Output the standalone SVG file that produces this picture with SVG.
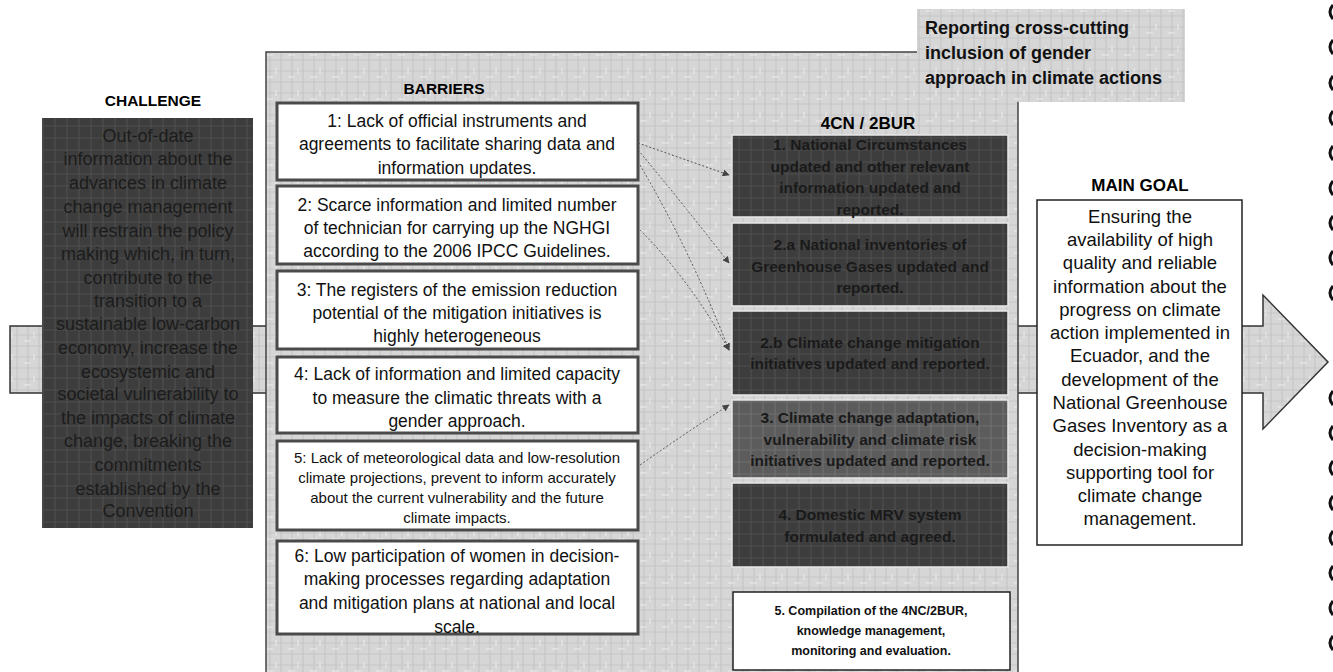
<svg xmlns="http://www.w3.org/2000/svg" width="1333" height="672" viewBox="0 0 1333 672">
<style>
.lbl{font-family:"Liberation Sans",Arial,sans-serif;font-weight:bold;font-size:15.5px;fill:#000;text-anchor:middle}
.bt{font-family:"Liberation Sans",Arial,sans-serif;font-size:17.5px;fill:#111;text-anchor:middle}
.bs{font-family:"Liberation Sans",Arial,sans-serif;font-size:15px;fill:#111;text-anchor:middle}
.dt{font-family:"Liberation Sans",Arial,sans-serif;font-weight:bold;font-size:15.5px;fill:#1a1a1a;text-anchor:middle}
.ct{font-family:"Liberation Sans",Arial,sans-serif;font-size:18px;fill:#1c1c1c;text-anchor:middle}
.gt{font-family:"Liberation Sans",Arial,sans-serif;font-size:18.5px;fill:#111;text-anchor:middle}
.rt{font-family:"Liberation Sans",Arial,sans-serif;font-weight:bold;font-size:18px;fill:#111}
.wb{fill:#fff;stroke:#4a4a4a;stroke-width:3}
.db{fill:url(#dark);stroke:#e8e8e8;stroke-width:1.5}
.conn{fill:none;stroke:#555;stroke-width:1;stroke-dasharray:2 2}
.st{font-family:"Liberation Sans",Arial,sans-serif;font-weight:bold;font-size:12.5px;fill:#111;text-anchor:middle}
</style>
<defs>
<pattern id="light" width="22" height="22" patternUnits="userSpaceOnUse">
<rect width="22" height="22" fill="#d6d6d6"/>
<path d="M0 5H22M0 16H22M6 0V22M17 0V22" stroke="#c6c6c6" stroke-width="1.2"/>
<path d="M2 11H9M12 2V8" stroke="#ececec" stroke-width="1"/>
</pattern>
<pattern id="dark" width="24" height="24" patternUnits="userSpaceOnUse">
<rect width="24" height="24" fill="#3d3d3d"/>
<path d="M0 6H24M0 18H24M7 0V24M19 0V24" stroke="#4d4d4d" stroke-width="1.2"/>
</pattern>
<pattern id="mid" width="24" height="24" patternUnits="userSpaceOnUse">
<rect width="24" height="24" fill="#5c5c5c"/>
<path d="M0 6H24M0 18H24M7 0V24M19 0V24" stroke="#6e6e6e" stroke-width="1.2"/>
</pattern>
<marker id="ah" viewBox="0 0 10 10" refX="9" refY="5" markerWidth="7" markerHeight="7" orient="auto">
<path d="M0 0L10 5L0 10z" fill="#444"/>
</marker>
</defs>
<rect width="1333" height="672" fill="#fff"/>

<g id="band-arrow">
<path d="M10 326H1263V295L1328 362L1263 429V393H10Z" fill="url(#light)" stroke="#333" stroke-width="1.5"/>
</g>

<g id="panel">
<path d="M266 52H1018V672H266Z" fill="url(#light)"/>
<path d="M266 672V52H917M1018 102V672" fill="none" stroke="#444" stroke-width="1.5"/>
</g>

<g id="reporting">
<rect x="917" y="9" width="268" height="93" fill="url(#light)"/>
<text class="rt" x="925" y="34">Reporting cross-cutting</text>
<text class="rt" x="925" y="59">inclusion of gender</text>
<text class="rt" x="925" y="84">approach in climate actions</text>
</g>

<g id="challenge">
<text class="lbl" x="153" y="106">CHALLENGE</text>
<rect x="42" y="118" width="211" height="410" fill="url(#dark)"/>
<text class="ct" x="148" y="142">Out-of-date</text>
<text class="ct" x="148" y="165">information about the</text>
<text class="ct" x="148" y="189">advances in climate</text>
<text class="ct" x="148" y="213">change management</text>
<text class="ct" x="148" y="237">will restrain the policy</text>
<text class="ct" x="148" y="260">making which, in turn,</text>
<text class="ct" x="148" y="284">contribute to the</text>
<text class="ct" x="148" y="307">transition to a</text>
<text class="ct" x="148" y="330">sustainable low-carbon</text>
<text class="ct" x="148" y="354">economy, increase the</text>
<text class="ct" x="148" y="378">ecosystemic and</text>
<text class="ct" x="148" y="400">societal vulnerability to</text>
<text class="ct" x="148" y="424">the impacts of climate</text>
<text class="ct" x="148" y="447">change, breaking the</text>
<text class="ct" x="148" y="471">commitments</text>
<text class="ct" x="148" y="495">established by the</text>
<text class="ct" x="148" y="517">Convention</text>
</g>

<g id="barriers-label"><text class="lbl" x="444" y="94">BARRIERS</text></g>

<g id="barrier1">
<rect class="wb" x="277" y="103" width="361" height="77"/>
<text class="bt" x="457" y="127">1: Lack of official instruments and</text>
<text class="bt" x="457" y="150">agreements to facilitate sharing data and</text>
<text class="bt" x="457" y="174">information updates.</text>
</g>
<g id="barrier2">
<rect class="wb" x="277" y="186" width="361" height="78"/>
<text class="bt" x="457" y="211">2: Scarce information and limited number</text>
<text class="bt" x="457" y="234">of technician for carrying up the NGHGI</text>
<text class="bt" x="457" y="257">according to the 2006 IPCC Guidelines.</text>
</g>
<g id="barrier3">
<rect class="wb" x="277" y="271" width="361" height="78"/>
<text class="bt" x="457" y="296">3: The registers of the emission reduction</text>
<text class="bt" x="457" y="319">potential of the mitigation initiatives is</text>
<text class="bt" x="457" y="342">highly heterogeneous</text>
</g>
<g id="barrier4">
<rect class="wb" x="277" y="357" width="361" height="76"/>
<text class="bt" x="457" y="380">4: Lack of information and limited capacity</text>
<text class="bt" x="457" y="404">to measure the climatic threats with a</text>
<text class="bt" x="457" y="427">gender approach.</text>
</g>
<g id="barrier5">
<rect class="wb" x="277" y="441" width="361" height="89"/>
<text class="bs" x="457" y="463">5: Lack of meteorological data and low-resolution</text>
<text class="bs" x="457" y="483">climate projections, prevent to inform accurately</text>
<text class="bs" x="457" y="503">about the current vulnerability and the future</text>
<text class="bs" x="457" y="523">climate impacts.</text>
</g>
<g id="barrier6">
<rect class="wb" x="277" y="541" width="361" height="93"/>
<text class="bt" x="457" y="562">6: Low participation of women in decision-</text>
<text class="bt" x="457" y="585">making processes regarding adaptation</text>
<text class="bt" x="457" y="609">and mitigation plans at national and local</text>
<text class="bt" x="457" y="633">scale.</text>
</g>

<g id="outputs-label"><text class="lbl" x="868" y="129" style="font-size:17px">4CN / 2BUR</text></g>

<g id="out1">
<rect class="db" x="732" y="135" width="276" height="82"/>
<text class="dt" x="870" y="150">1. National Circumstances</text>
<text class="dt" x="870" y="172">updated and other relevant</text>
<text class="dt" x="870" y="193">information updated and</text>
<text class="dt" x="870" y="215">reported.</text>
</g>
<g id="out2a">
<rect class="db" x="732" y="223" width="276" height="83"/>
<text class="dt" x="870" y="250">2.a National inventories of</text>
<text class="dt" x="870" y="272">Greenhouse Gases updated and</text>
<text class="dt" x="870" y="293">reported.</text>
</g>
<g id="out2b">
<rect class="db" x="732" y="311" width="276" height="84"/>
<text class="dt" x="870" y="348">2.b Climate change mitigation</text>
<text class="dt" x="870" y="369">initiatives updated and reported.</text>
</g>
<g id="out3">
<rect x="732" y="400" width="276" height="78" fill="url(#mid)" stroke="#e8e8e8" stroke-width="1.5"/>
<text class="dt" x="870" y="423">3. Climate change adaptation,</text>
<text class="dt" x="870" y="445">vulnerability and climate risk</text>
<text class="dt" x="870" y="466">initiatives updated and reported.</text>
</g>
<g id="out4">
<rect class="db" x="732" y="483" width="276" height="84"/>
<text class="dt" x="870" y="520">4. Domestic MRV system</text>
<text class="dt" x="870" y="542">formulated and agreed.</text>
</g>
<g id="out5">
<rect x="733" y="592" width="277" height="78" fill="#fff" stroke="#222" stroke-width="1.5"/>
<text class="st" x="871" y="615">5. Compilation of the 4NC/2BUR,</text>
<text class="st" x="871" y="635">knowledge management,</text>
<text class="st" x="871" y="655">monitoring and evaluation.</text>
</g>

<g id="goal">
<text class="lbl" x="1140" y="191" style="font-size:17px">MAIN GOAL</text>
<rect x="1037" y="200" width="205" height="345" fill="#fff" stroke="#222" stroke-width="1.5"/>
<text class="gt" x="1140" y="223">Ensuring the</text>
<text class="gt" x="1140" y="246">availability of high</text>
<text class="gt" x="1140" y="269">quality and reliable</text>
<text class="gt" x="1140" y="293">information about the</text>
<text class="gt" x="1140" y="316">progress on climate</text>
<text class="gt" x="1140" y="339">action implemented in</text>
<text class="gt" x="1140" y="362">Ecuador, and the</text>
<text class="gt" x="1140" y="386">development of the</text>
<text class="gt" x="1140" y="409">National Greenhouse</text>
<text class="gt" x="1140" y="432">Gases Inventory as a</text>
<text class="gt" x="1140" y="456">decision-making</text>
<text class="gt" x="1140" y="479">supporting tool for</text>
<text class="gt" x="1140" y="502">climate change</text>
<text class="gt" x="1140" y="525">management.</text>
</g>

<g id="connectors">
<path class="conn" d="M638 143L729 175" marker-end="url(#ah)"/>
<path class="conn" d="M638 150Q680 200 729 263" marker-end="url(#ah)"/>
<path class="conn" d="M640 165Q690 250 729 350" marker-end="url(#ah)"/>
<path class="conn" d="M640 230Q690 280 729 350" marker-end="url(#ah)"/>
<path class="conn" d="M640 465Q690 430 729 405" marker-end="url(#ah)"/>
</g>

<g id="edge-marks" fill="none" stroke="#111" stroke-width="3">
<path d="M1333 5Q1327 12 1333 19M1333 40Q1327 47 1333 54M1333 76Q1327 83 1333 90M1333 111Q1327 118 1333 125M1333 146Q1327 153 1333 160M1333 181Q1327 188 1333 195M1333 216Q1327 223 1333 230M1333 251Q1327 258 1333 265M1333 286Q1327 293 1333 300M1333 391Q1327 398 1333 405M1333 426Q1327 433 1333 440M1333 461Q1327 468 1333 475M1333 496Q1327 503 1333 510M1333 531Q1327 538 1333 545M1333 566Q1327 573 1333 580M1333 601Q1327 608 1333 615M1333 636Q1327 643 1333 650"/>
</g>
</svg>
